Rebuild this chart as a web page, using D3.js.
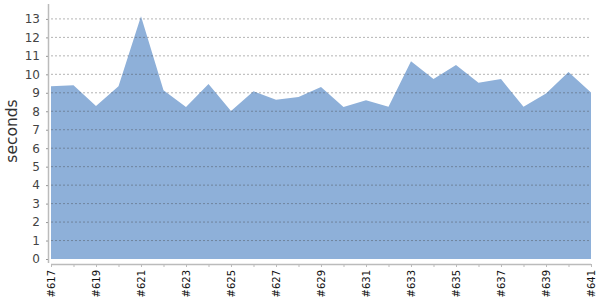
<!DOCTYPE html>
<html>
<head>
<meta charset="utf-8">
<script src="https://cdn.jsdelivr.net/npm/d3@7"></script>
<style>
  body { margin: 0; background: #fff; }
  svg, svg text { font-family: "DejaVu Sans", sans-serif; }
  svg { display: block; }
</style>
</head>
<body>
<div id="chart"></div>
<script>
// build ids and timings
const builds = ["#617","#618","#619","#620","#621","#622","#623","#624","#625","#626","#627","#628","#629",
                "#630","#631","#632","#633","#634","#635","#636","#637","#638","#639","#640","#641"];
const seconds = [9.36, 9.41, 8.28, 9.36, 13.15, 9.14, 8.23, 9.47, 8.02, 9.08, 8.62, 8.77, 9.31,
                 8.23, 8.6, 8.24, 10.71, 9.74, 10.5, 9.54, 9.74, 8.24, 8.96, 10.12, 9.02];
const yTicks = d3.range(0, 14);

const fullWidth = 600, fullHeight = 300;
const margin = { top: 4, right: 9, bottom: 41, left: 51 };
const width = fullWidth - margin.left - margin.right;
const height = fullHeight - margin.top - margin.bottom;

const svg = d3.select("#chart").append("svg")
  .attr("width", fullWidth)
  .attr("height", fullHeight);

const g = svg.append("g")
  .attr("transform", `translate(${margin.left},${margin.top})`);

const x = d3.scalePoint().domain(builds).range([0, width]);
const y = d3.scaleLinear().domain([0, d3.max(seconds) * 1.05]).range([height, 0]);

const data = builds.map((b, i) => ({ b, v: seconds[i] }));

// area
g.append("path")
  .datum(data)
  .attr("fill", "#8eb0d9")
  .attr("d", d3.area().x(d => x(d.b)).y0(y(0)).y1(d => y(d.v)));

// grid lines (dashed, on top)
g.append("g")
  .selectAll("line")
  .data(yTicks.filter(t => t > 0))
  .join("line")
  .attr("x1", 0).attr("x2", width)
  .attr("y1", d => y(d)).attr("y2", d => y(d))
  .attr("stroke", "#444")
  .attr("stroke-opacity", 0.4)
  .attr("stroke-dasharray", "2,2");

// y axis
const yAxis = g.append("g")
  .attr("transform", "translate(-3,0)")
  .call(d3.axisLeft(y).tickValues(yTicks).tickSize(2).tickPadding(6));
yAxis.attr("font-family", null);
yAxis.select(".domain").attr("stroke", "#bbb").attr("stroke-width", 1.5).attr("d", `M0.5,0V${y(0) + 4}`);
yAxis.selectAll(".tick line").attr("stroke", "#999");
yAxis.selectAll("text").style("font-size", "12px").attr("fill", "#444");

// x axis
const xAxis = g.append("g")
  .attr("transform", `translate(0,${height + 5})`)
  .call(d3.axisBottom(x).tickSize(3).tickFormat((d, i) => i % 2 === 0 ? d : ""));
xAxis.attr("font-family", null);
xAxis.select(".domain").attr("stroke", "#bbb").attr("stroke-width", 1.5).attr("d", `M0,0.5H${width}`);
xAxis.selectAll(".tick line").attr("stroke", "#bbb");
xAxis.selectAll("text")
  .style("font-size", "10px")
  .attr("fill", "#111")
  .attr("text-anchor", "end")
  .attr("transform", "rotate(-90)")
  .attr("x", -6)
  .attr("y", 0)
  .attr("dy", "0.35em");

// y label
svg.append("text")
  .attr("transform", "translate(17,131) rotate(-90)")
  .attr("text-anchor", "middle")
  .style("font-size", "15.5px")
  .attr("fill", "#333")
  .text("seconds");
</script>
</body>
</html>
